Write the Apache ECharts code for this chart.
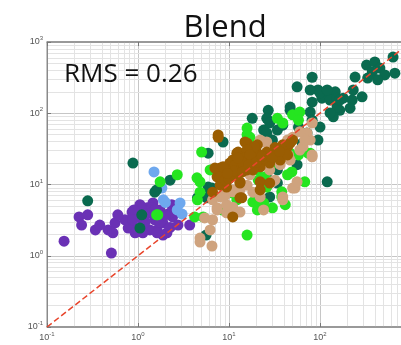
<!DOCTYPE html>
<html>
<head>
<meta charset="utf-8">
<script src="https://cdn.jsdelivr.net/npm/echarts@6/dist/echarts.min.js"></script>
<style>
  html, body { margin: 0; padding: 0; background: #fff; }
  #chart { width: 401px; height: 345px; }
</style>
</head>
<body>
<div id="chart"></div>
<script>
// axis range and tick labels (log axes)
const axisMin = 0.1
const axisMax = 1000
const tickExponents = ['-1', '0', '1', '2', '3']
const minorGrid = [0.2, 0.3, 0.4, 0.5, 0.6, 0.7, 0.8, 0.9, 2, 3, 4, 5, 6, 7, 8, 9,
  20, 30, 40, 50, 60, 70, 80, 90, 200, 300, 400, 500, 600, 700, 800, 900]

// series: [x, y]
const purple = [[0.225, 3.5], [0.24, 2.7], [0.34, 2.3], [0.47, 2.3], [0.56, 2.9], [0.53, 2.1], [0.154, 1.6],
  [0.51, 1.09], [0.86, 4.1], [0.81, 3.0], [0.93, 2.45], [1.26, 4.7], [1.35, 4.0], [1.53, 3.2], [1.74, 4.4],
  [1.88, 2.9], [1.62, 2.3], [2.08, 2.1], [2.25, 2.5], [1.35, 2.3], [1.13, 2.1], [1.05, 3.4], [2.4, 3.5],
  [2.35, 5.2], [1.46, 5.5], [0.78, 2.45], [0.72, 3.2], [3.7, 2.7], [1.13, 4.4], [1.42, 4.7], [2.25, 4.0],
  [1.88, 1.95], [1.62, 2.1], [0.93, 2.1], [1.2, 3.0], [1.75, 3.0], [2.0, 3.75], [1.53, 4.4], [1.05, 5.2],
  [1.2, 3.75], [2.75, 2.7], [0.6, 3.75], [0.38, 2.7], [0.28, 3.75], [0.9, 4.4], [0.88, 3.2]]
const lightBlue = [[1.5, 15], [1.9, 6.1], [2.9, 5.5], [3.05, 3.85], [1.83, 8.9], [2.0, 5.6], [2.7, 4.4]]
const darkGreen = [[56, 235], [82, 320], [95, 212], [114, 200], [129, 180], [147, 200], [105, 163], [129, 153],
  [154, 163], [243, 322], [232, 212], [180, 163], [226, 153], [290, 170], [325, 475], [400, 525], [455, 430],
  [375, 380], [515, 345], [430, 295], [334, 312], [635, 615], [665, 365], [78, 212], [100, 193], [120, 212],
  [165, 110], [154, 122], [214, 118], [165, 153], [140, 89], [129, 101], [82, 143], [78, 104], [82, 80],
  [47, 110], [100, 64], [95, 42], [72, 53], [18, 85], [27, 110], [26, 85], [39, 68], [34, 58], [58, 64],
  [24, 58], [25, 42], [30, 42], [35, 30], [44, 38], [64, 34], [47, 122], [56, 19], [34, 16], [26, 12.4],
  [5.9, 9.2], [6.5, 8.9], [5.9, 27.5], [8.6, 39.5], [4.5, 6.5], [5.6, 1.95], [2.25, 11.5], [1.6, 8.4],
  [0.88, 20], [0.28, 5.9], [1.53, 7.8], [6.2, 8.4], [5.7, 6.5], [7.6, 16], [120, 10.9], [64, 38],
  [1.1, 3.75], [1.05, 2.45], [26, 53], [28, 73], [34, 10.5], [28, 6.7]]
const brightGreen = [[5.0, 28.5], [15.8, 27.5], [15.8, 50], [2.7, 13.7], [1.75, 10.9], [4.8, 10.9], [4.8, 7.8],
  [4.5, 6.1], [5.2, 3.5], [8.4, 4.4], [18.3, 5.7], [24, 5.5], [20.5, 4.4], [30, 4.7], [38, 6.7], [38, 7.9],
  [49, 15], [68, 10.9], [78, 27.5], [20.5, 16], [24, 12.4], [34, 20], [44, 27.5], [11, 7.6], [1.65, 3.75],
  [15.8, 1.95], [15.8, 62], [17, 46], [34, 85], [50, 95], [60, 104], [39, 73], [58, 80], [74, 27.5],
  [58, 26], [21, 11.5], [12.2, 6.1], [22, 5.5], [41.5, 5.2], [25, 12.8], [44, 13.7], [34, 22], [47, 27.5],
  [26, 9.2], [4.45, 12.4], [4.2, 3.5], [6.2, 16], [1.6, 3.75]]
const tan = [[26, 39.5], [44, 42], [50, 46], [82, 24.5], [53, 8.9], [30, 10.9], [39, 6.1], [22, 6.7], [24, 4.4],
  [11, 4.8], [8, 6.7], [7.4, 4.7], [9.4, 4.0], [6.6, 3.2], [4.8, 1.77], [6.2, 2.3], [13.2, 4.1], [18.3, 7.8],
  [11, 8.4], [22, 42], [4.8, 1.56], [6.5, 1.37], [72, 53], [82, 73], [78, 42], [65, 34], [18.3, 30.5],
  [82, 26], [45, 26], [24, 39.5], [9.4, 5.2], [11, 7.9], [15.8, 9.8], [32, 11.5], [39, 6.7], [50, 8.9],
  [56, 10.9], [6.6, 6.1], [7.4, 4.4], [5.4, 3.4], [17, 13.7], [13.2, 8.4], [9, 7], [28, 16], [36.5, 19],
  [47, 22], [60, 30.5], [68, 42], [60, 55]]
const brown = [[7.6, 49.5], [12.2, 27.5], [15.8, 38], [20.5, 27.5], [7.4, 12.8], [9.4, 16], [11, 14.5],
  [13.2, 17.7], [18.3, 22], [22, 17.7], [26, 22], [30, 27.5], [39, 27.5], [44, 34], [50, 42], [36.5, 22],
  [13.2, 10.5], [9.4, 9.2], [8, 9.8], [11, 22], [15.8, 16], [18.3, 16], [22, 10.9], [13.2, 6.5], [11, 3.5],
  [6.6, 7.8], [28, 10.5], [8, 17], [10.2, 20], [7.6, 46], [15, 39.5], [12.6, 28.5], [20.5, 36], [7, 17],
  [8, 12.8], [13.2, 10.9], [22, 8.4], [13.8, 6.5], [8.6, 17.7], [17, 22], [26, 28.5], [34, 30.5], [28, 20],
  [19, 34], [15.8, 30.5], [44, 26], [11.7, 19], [15, 23.5], [17, 26], [9, 11.5], [10.2, 13.7], [24, 23.5],
  [32, 33], [39, 36], [47, 38], [14.2, 20], [12.2, 13.7], [10, 12], [11.5, 15.5], [14, 15], [16.5, 19],
  [20, 20.5], [23, 25], [30, 24], [36, 29], [9.6, 14.3], [12.5, 23.5]]
const oneToOne = [[0.1, 0.1], [1000, 1000]]
const rmsText = 'RMS = 0.26'

const expLabel = (v) => {
  const e = Math.round(Math.log10(v))
  const s = tickExponents.find((t) => Number(t) === e)
  return s === undefined ? '' : `{b|10}{e|${s}}`
}

const labelRich = {
  b: { fontSize: 9, color: '#555', fontFamily: 'Liberation Sans' },
  e: { fontSize: 6, color: '#555', fontFamily: 'Liberation Sans', padding: [0, 0, 7, 0] },
}

const logAxis = (extra) => ({
  type: 'log',
  logBase: 10,
  min: axisMin,
  max: axisMax,
  axisLine: { show: true, lineStyle: { color: '#8a8a8a', width: 1.5 } },
  axisTick: { show: true, inside: true, length: 4, lineStyle: { color: '#777' } },
  splitLine: { show: true, lineStyle: { color: '#c6c6c6', width: 1 } },
  axisLabel: { formatter: expLabel, rich: labelRich, margin: 4 },
  ...extra,
})

const dot = (name, color, data) => ({
  name,
  type: 'scatter',
  data,
  symbolSize: 11,
  itemStyle: { color, opacity: 1 },
  silent: true,
  z: 3,
})

const chart = echarts.init(document.getElementById('chart'), null, { renderer: 'canvas' })
chart.setOption({
  animation: false,
  backgroundColor: '#fff',
  title: {
    text: 'Blend',
    left: 220,
    textAlign: 'center',
    top: 8,
    textStyle: { fontSize: 31, fontWeight: 'normal', color: '#111', fontFamily: 'Open Sans' },
  },
  graphic: [{
    type: 'text',
    left: 64,
    top: 62,
    z: 100,
    style: { text: rmsText, fontSize: 26, fill: '#111', fontFamily: 'Open Sans' },
  }],
  // the axis runs past the right edge of the picture, up to 10^3
  grid: {
    left: 47, top: 42, width: 364, bottom: 18,
    outerBoundsMode: 'none', containLabel: false,
    show: true, borderColor: '#8a8a8a', borderWidth: 1,
  },
  xAxis: [
    logAxis({ position: 'bottom' }),
    logAxis({ position: 'top', axisLabel: { show: false }, splitLine: { show: false } }),
  ],
  yAxis: [
    logAxis({ position: 'left', axisLine: { show: true, lineStyle: { color: '#8a8a8a', width: 1 } } }),
  ],
  series: [
    {
      type: 'line',
      data: [],
      silent: true,
      z: 0,
      markLine: {
        silent: true,
        z: 0,
        symbol: 'none',
        label: { show: false },
        lineStyle: { color: '#e3e3e3', width: 1, type: 'solid' },
        data: minorGrid.map((v) => ({ xAxis: v })).concat(minorGrid.map((v) => ({ yAxis: v }))),
      },
    },
    dot('purple', '#6a31b5', purple),
    dot('light blue', '#6ea8ee', lightBlue),
    dot('dark green', '#0a6a4f', darkGreen),
    dot('bright green', '#25e520', brightGreen),
    dot('tan', '#cfa37e', tan),
    dot('brown', '#9a5d02', brown),
    {
      type: 'line',
      data: oneToOne,
      symbol: 'none',
      silent: true,
      lineStyle: { color: '#e8452c', width: 1.5, type: [6, 3] },
      z: 10,
    },
  ],
})
</script>
</body>
</html>
